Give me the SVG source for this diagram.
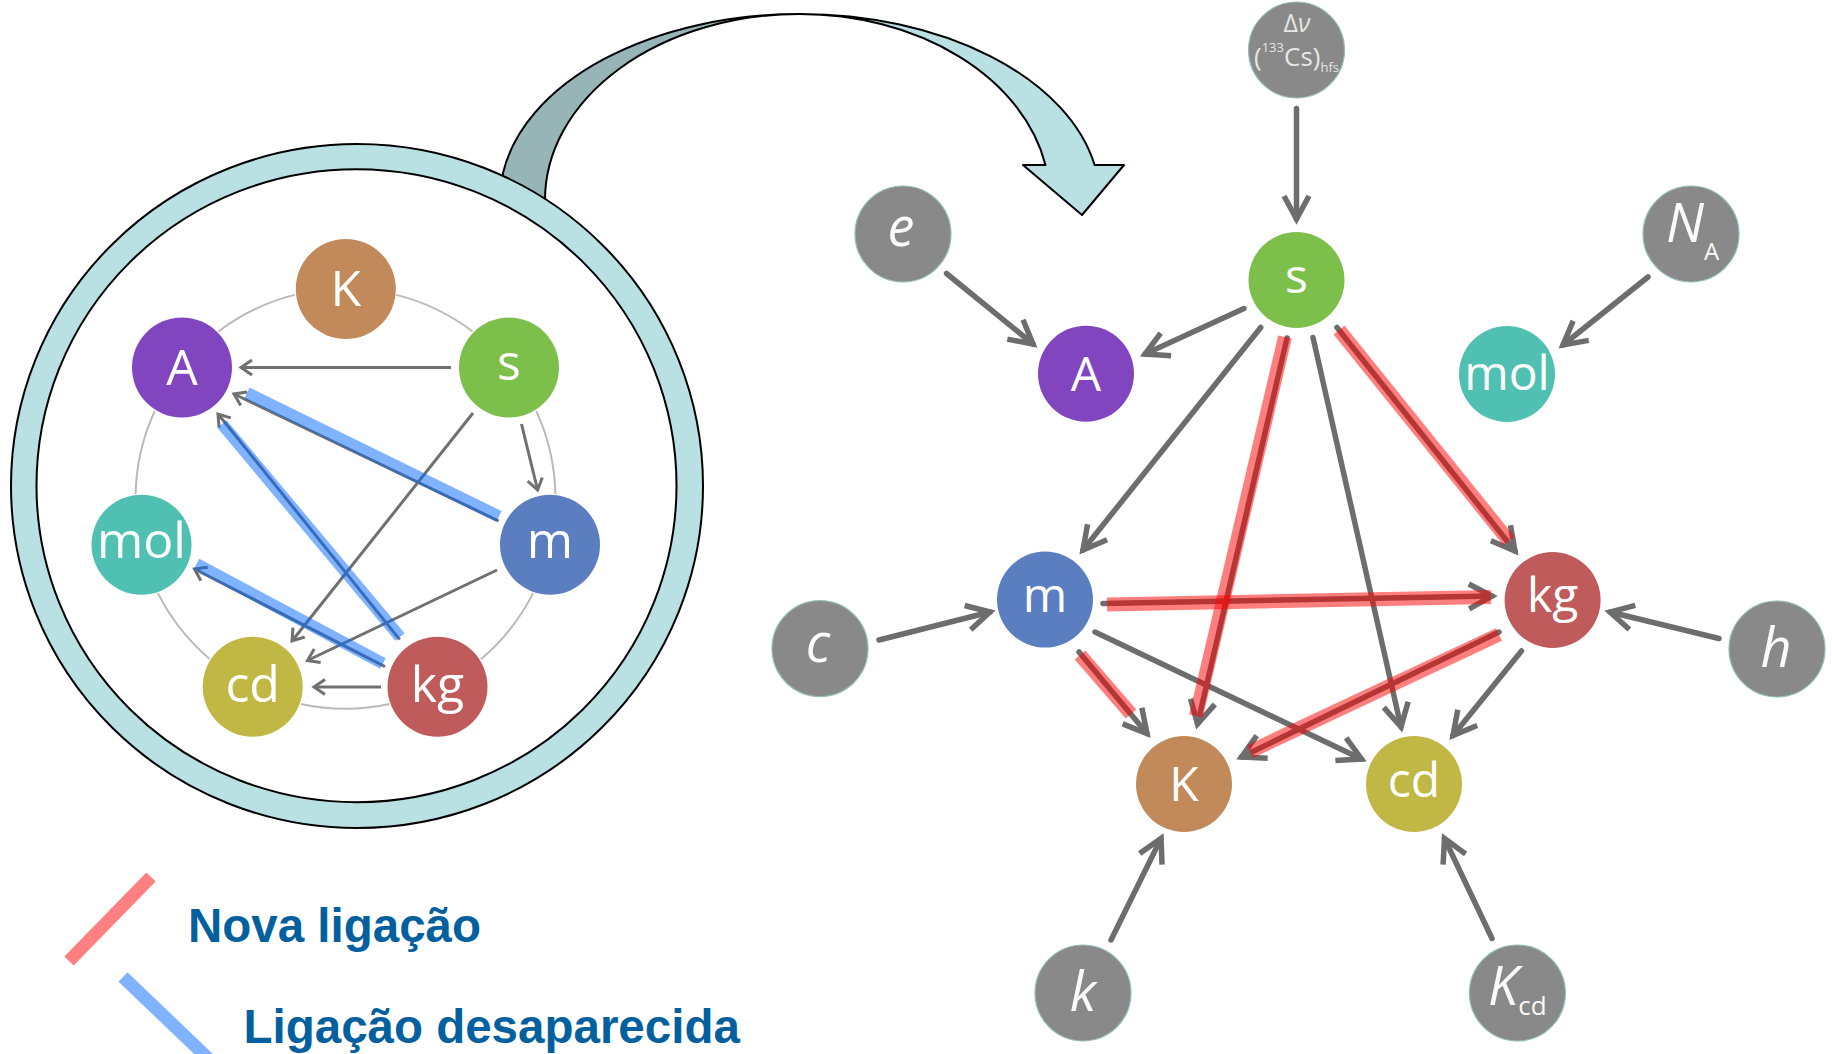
<svg xmlns="http://www.w3.org/2000/svg" width="1832" height="1054" viewBox="0 0 1832 1054">
<style>
.lbl{font-family:"Open Sans","Noto Sans","DejaVu Sans",sans-serif;fill:#ffffff;text-anchor:middle}
.L{font-size:50px}
.R{font-size:48px}
.it{font-family:"Open Sans","Noto Sans","DejaVu Sans",sans-serif;font-style:italic;fill:#fafafa;font-size:54px}
.gray{fill:#898989;stroke:#93bdb7;stroke-width:1.2}
.cs{fill:#7dbf4b}.cA{fill:#8145c0}.cmol{fill:#4fc0b1}.cm{fill:#5b7ec0}.ckg{fill:#c05b5b}.cK{fill:#c2895a}.ccd{fill:#c1b744}
.lg{stroke:#707070;stroke-width:3;fill:none;marker-end:url(#ahL)}
.rg{stroke:#6d6d6d;stroke-width:5.5;fill:none;stroke-linecap:round;marker-end:url(#ahR)}
.blue{stroke:#0066ff;stroke-opacity:0.5;stroke-width:12;fill:none}
.red{stroke:#ff0000;stroke-opacity:0.5;stroke-width:14;fill:none}
.leg{font-family:"Liberation Sans",Arial,sans-serif;font-weight:bold;font-size:47.5px;fill:#03609e}
</style>
<defs>
<marker id="ahR" markerUnits="userSpaceOnUse" viewBox="-32 -20 38 40" refX="0" refY="0" markerWidth="38" markerHeight="40" orient="auto">
<path d="M-23,-12.5 L0,0 L-23,12.5" fill="none" stroke="#6d6d6d" stroke-width="5.5" stroke-linejoin="miter"/>
</marker>
<marker id="ahL" markerUnits="userSpaceOnUse" viewBox="-16 -12 22 24" refX="0" refY="0" markerWidth="22" markerHeight="24" orient="auto">
<path d="M-11,-7.5 L0,0 L-11,7.5" fill="none" stroke="#707070" stroke-width="3" stroke-linejoin="miter"/>
</marker>
</defs>
<rect width="1832" height="1054" fill="#ffffff"/>

<!-- curved arrow -->
<g id="curved-arrow" stroke="#000" stroke-width="2" stroke-linejoin="round">
<path d="M497,260 L503,173 A300,186 0 0 1 800,14 A255,186 0 0 0 545,200 L548,260 Z" fill="#97b4b6"/>
<path d="M800,14 A300,186 0 0 1 1094.6,165 L1124,165 L1082,215 L1023,165 L1045.5,165 A250,186 0 0 0 800,14 Z" fill="#b9e0e3"/>
</g>

<!-- zoom ellipse -->
<g id="zoom-ring">
<ellipse cx="357" cy="486" rx="346" ry="342" fill="#b9e0e3" stroke="#000" stroke-width="2"/>
<ellipse cx="356.5" cy="485.7" rx="320" ry="316.5" fill="#ffffff" stroke="#000" stroke-width="2"/>
</g>

<!-- left ring arcs -->
<g id="left-ring" fill="none" stroke="#bababa" stroke-width="2">
<path d="M396.3,294.9 A210,210 0 0 1 472.6,331.5"/>
<path d="M536.2,410.8 A210,210 0 0 1 555.4,493.9"/>
<path d="M533.1,593.1 A210,210 0 0 1 480.8,659.3"/>
<path d="M389.5,704 A210,210 0 0 1 300.8,703.9"/>
<path d="M209.7,658.9 A210,210 0 0 1 157.9,593.1"/>
<path d="M135.6,493.9 A210,210 0 0 1 154.8,410.8"/>
<path d="M218.4,331.5 A210,210 0 0 1 294.7,294.9"/>
</g>

<!-- left connectors -->
<g id="left-connectors">
<line class="lg" x1="451" y1="367.5" x2="241" y2="367.5"/>
<line class="lg" x1="521.5" y1="424" x2="537.6" y2="490"/>
<line class="lg" x1="473" y1="413" x2="292" y2="641"/>
<line class="lg" x1="497" y1="570" x2="307.5" y2="660.5"/>
<line class="lg" x1="381" y1="687" x2="314" y2="687"/>
<line class="lg" x1="498.7" y1="521" x2="234" y2="394"/>
<line class="lg" x1="399.7" y1="639.6" x2="218" y2="414"/>
<line class="lg" x1="385" y1="666.7" x2="194.5" y2="569"/>
<line class="blue" x1="247" y1="393" x2="499" y2="516.5"/>
<line class="blue" x1="222" y1="424" x2="400" y2="637"/>
<line class="blue" x1="196.5" y1="564" x2="383" y2="663.5"/>
</g>

<!-- left nodes -->
<g id="L-K"><circle class="cK" cx="345.8" cy="289" r="50"/><text class="lbl L" x="345.8" y="306">K</text></g>
<g id="L-A"><circle class="cA" cx="182" cy="367.5" r="50"/><text class="lbl L" x="182" y="384.5">A</text></g>
<g id="L-s"><circle class="cs" cx="509" cy="367.5" r="50"/><text class="lbl L" x="509" y="380">s</text></g>
<g id="L-mol"><circle class="cmol" cx="141.5" cy="544.7" r="50"/><text class="lbl L" x="141.5" y="558">mol</text></g>
<g id="L-m"><circle class="cm" cx="550" cy="544.7" r="50"/><text class="lbl L" x="550" y="558">m</text></g>
<g id="L-cd"><circle class="ccd" cx="252.7" cy="686.7" r="50"/><text class="lbl L" x="252.7" y="702">cd</text></g>
<g id="L-kg"><circle class="ckg" cx="437.5" cy="686.7" r="50"/><text class="lbl L" x="437.5" y="702">kg</text></g>

<!-- right connectors -->
<g id="right-connectors">
<line class="rg" x1="1296.5" y1="108.5" x2="1296.5" y2="219"/>
<line class="rg" x1="946.5" y1="273.5" x2="1033" y2="344"/>
<line class="rg" x1="1244" y1="308.5" x2="1145" y2="354"/>
<line class="rg" x1="1648" y1="277" x2="1563" y2="345"/>
<line class="rg" x1="1260.7" y1="327.5" x2="1083" y2="550"/>
<line class="rg" x1="1287" y1="338" x2="1197.5" y2="724"/>
<line class="rg" x1="1313" y1="337.5" x2="1401" y2="727"/>
<line class="rg" x1="1337" y1="327.5" x2="1515" y2="551"/>
<line class="rg" x1="1103" y1="603.5" x2="1492" y2="596"/>
<line class="rg" x1="879" y1="640" x2="990" y2="612"/>
<line class="rg" x1="1719" y1="638.5" x2="1610" y2="612"/>
<line class="rg" x1="1079" y1="652" x2="1147" y2="733.5"/>
<line class="rg" x1="1095" y1="632" x2="1361.5" y2="759"/>
<line class="rg" x1="1499" y1="632" x2="1241.5" y2="757"/>
<line class="rg" x1="1521.5" y1="651" x2="1453" y2="735.5"/>
<line class="rg" x1="1111" y1="940" x2="1161" y2="838.5"/>
<line class="rg" x1="1492" y1="938.5" x2="1444.5" y2="838.5"/>
<line class="red" x1="1285" y1="337" x2="1196" y2="716"/>
<line class="red" x1="1339" y1="330" x2="1509" y2="541"/>
<line class="red" x1="1107" y1="604.5" x2="1491" y2="597"/>
<line class="red" x1="1080" y1="655" x2="1131" y2="714"/>
<line class="red" x1="1499" y1="634.5" x2="1250" y2="751.5"/>
</g>

<!-- right nodes -->
<g id="R-dnu"><circle class="gray" cx="1296.5" cy="50" r="48"/>
<text x="1297" y="32" font-family="'Open Sans','Noto Sans','DejaVu Sans',sans-serif" font-size="25" fill="#e6e6e6" text-anchor="middle">Δ<tspan font-style="italic">ν</tspan></text>
<text x="1296.5" y="66" font-family="'Open Sans','Noto Sans','DejaVu Sans',sans-serif" font-size="26" fill="#e6e6e6" text-anchor="middle">(<tspan font-size="13" dy="-14">133</tspan><tspan dy="14">Cs)</tspan><tspan font-size="13" dy="6">hfs</tspan></text></g>
<g id="R-s"><circle class="cs" cx="1296.5" cy="280" r="48"/><text class="lbl R" x="1296.5" y="292.5">s</text></g>
<g id="R-e"><circle class="gray" cx="903" cy="234" r="48"/><text class="it" x="901" y="246" text-anchor="middle">e</text></g>
<g id="R-A"><circle class="cA" cx="1086" cy="373.7" r="48"/><text class="lbl R" x="1086" y="391">A</text></g>
<g id="R-NA"><circle class="gray" cx="1691" cy="234" r="48"/><text class="it" x="1666" y="242" font-size="48">N<tspan font-style="normal" font-size="24" dy="18">A</tspan></text></g>
<g id="R-mol"><circle class="cmol" cx="1507" cy="374" r="48"/><text class="lbl R" x="1507" y="390">mol</text></g>
<g id="R-m"><circle class="cm" cx="1045" cy="599.6" r="48"/><text class="lbl R" x="1045" y="611.7">m</text></g>
<g id="R-kg"><circle class="ckg" cx="1552.6" cy="600" r="48"/><text class="lbl R" x="1552.6" y="612">kg</text></g>
<g id="R-c"><circle class="gray" cx="820" cy="648.6" r="48"/><text class="it" x="818" y="662" text-anchor="middle">c</text></g>
<g id="R-h"><circle class="gray" cx="1777" cy="649" r="48"/><text class="it" x="1776" y="667" text-anchor="middle">h</text></g>
<g id="R-K"><circle class="cK" cx="1184" cy="784" r="48"/><text class="lbl R" x="1184" y="800.5">K</text></g>
<g id="R-cd"><circle class="ccd" cx="1414" cy="784" r="48"/><text class="lbl R" x="1414" y="796.5">cd</text></g>
<g id="R-k"><circle class="gray" cx="1083" cy="993" r="48"/><text class="it" x="1083" y="1011" text-anchor="middle">k</text></g>
<g id="R-Kcd"><circle class="gray" cx="1517.4" cy="993" r="48"/><text class="it" x="1488" y="1005" font-size="52">K<tspan font-style="normal" font-size="26" dy="10">cd</tspan></text></g>

<!-- legend -->
<g id="legend">
<line x1="69" y1="961" x2="151" y2="877" stroke="#ff8080" stroke-width="13"/>
<line x1="123" y1="977" x2="214" y2="1064" stroke="#80b3ff" stroke-width="13"/>
<text class="leg" x="188" y="941.7">Nova ligação</text>
<text class="leg" x="243.5" y="1042.7">Ligação desaparecida</text>
</g>
</svg>
